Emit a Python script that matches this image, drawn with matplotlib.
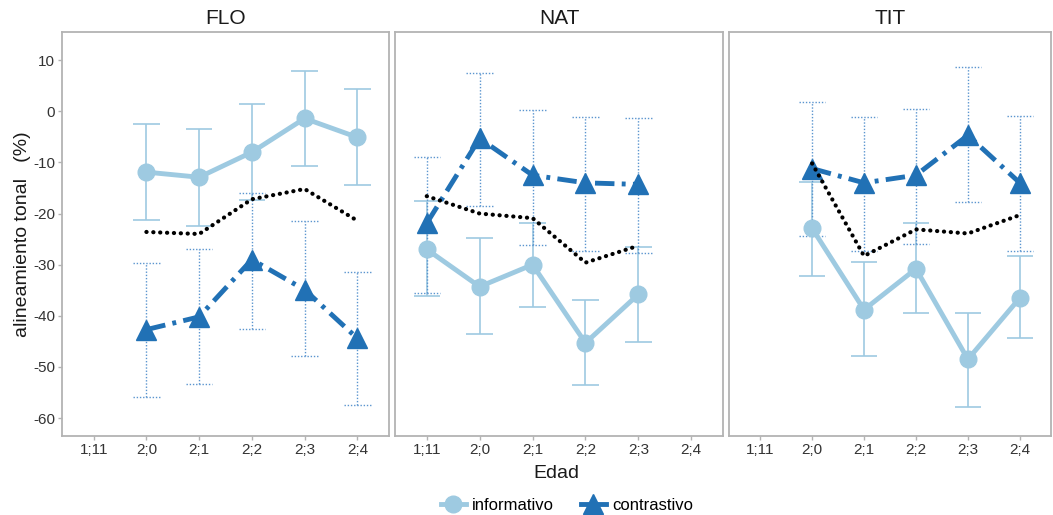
import numpy as np
import matplotlib.pyplot as plt
from matplotlib.lines import Line2D

plt.rcParams['font.family'] = ['Liberation Sans', 'DejaVu Sans']

edades = ['1;11', '2;0', '2;1', '2;2', '2;3', '2;4']
paneles = ['FLO', 'NAT', 'TIT']
nan = np.nan

# informativo: media, limite superior, limite inferior
inf_mean = {'FLO': [nan, -11.9, -12.9, -8.0, -1.4, -5.1],
            'NAT': [-27.0, -34.3, -30.0, -45.3, -35.8, nan],
            'TIT': [nan, -22.9, -38.8, -30.8, -48.5, -36.5]}
inf_hi = {'FLO': [nan, -2.5, -3.5, 1.4, 7.8, 4.3],
          'NAT': [-17.5, -24.8, -21.8, -37.0, -26.5, nan],
          'TIT': [nan, -13.8, -29.4, -21.9, -39.4, -28.3]}
inf_lo = {'FLO': [nan, -21.2, -22.4, -17.4, -10.7, -14.4],
          'NAT': [-36.2, -43.6, -38.2, -53.6, -45.1, nan],
          'TIT': [nan, -32.2, -47.9, -39.5, -57.9, -44.3]}

# contrastivo
con_mean = {'FLO': [nan, -42.7, -40.2, -29.0, -34.9, -44.4],
            'NAT': [-21.9, -5.3, -12.5, -14.0, -14.3, nan],
            'TIT': [nan, -11.2, -14.0, -12.5, -4.7, -14.0]}
con_hi = {'FLO': [nan, -29.6, -26.9, -16.0, -21.4, -31.4],
          'NAT': [-8.9, 7.4, 0.3, -1.1, -1.3, nan],
          'TIT': [nan, 1.8, -1.2, 0.4, 8.6, -1.0]}
con_lo = {'FLO': [nan, -55.8, -53.4, -42.5, -47.8, -57.5],
          'NAT': [-35.5, -18.5, -26.1, -27.4, -27.7, nan],
          'TIT': [nan, -24.3, -27.4, -26.0, -17.7, -27.4]}

# linea punteada negra
media = {'FLO': [nan, -23.6, -24.0, -17.2, -15.2, -21.4],
         'NAT': [-16.6, -20.0, -20.9, -29.6, -26.3, nan],
         'TIT': [nan, -10.2, -28.3, -23.1, -23.9, -20.3]}

col_inf = '#9ecae1'
col_con = '#2171b5'
col_err = '#5b95cf'
spine_col = '#b3b3b3'

W, H = 1053, 515
fig = plt.figure(figsize=(W / 100, H / 100), dpi=100)
lefts = [62, 395, 729]
rights = [389, 723, 1051]
top, bottom = 32, 436

x = np.arange(len(edades))
axes = []
for i, p in enumerate(paneles):
    ax = fig.add_axes([lefts[i] / W, 1 - bottom / H, (rights[i] - lefts[i]) / W, (bottom - top) / H])
    axes.append(ax)
    im = np.array(inf_mean[p]); ih = np.array(inf_hi[p]); il = np.array(inf_lo[p])
    cm = np.array(con_mean[p]); ch = np.array(con_hi[p]); cl = np.array(con_lo[p])
    mm = np.array(media[p])

    # barras de error informativo
    ax.vlines(x, il, ih, color=col_inf, lw=1.2, zorder=2)
    ax.hlines(ih, x - 0.25, x + 0.25, color=col_inf, lw=1.2, zorder=2)
    ax.hlines(il, x - 0.25, x + 0.25, color=col_inf, lw=1.2, zorder=2)
    # barras de error contrastivo
    ax.vlines(x, cl, ch, color=col_err, lw=1.0, linestyles=(0, (1, 1.3)), zorder=2)
    ax.hlines(ch, x - 0.25, x + 0.25, color=col_err, lw=1.0, linestyles=(0, (1, 1.3)), zorder=2)
    ax.hlines(cl, x - 0.25, x + 0.25, color=col_err, lw=1.0, linestyles=(0, (1, 1.3)), zorder=2)

    ok = ~np.isnan(im)
    ax.plot(x[ok], im[ok], color=col_inf, lw=3.5, marker='o', ms=12, zorder=3)
    ok = ~np.isnan(cm)
    ax.plot(x[ok], cm[ok], color=col_con, lw=3.5, linestyle=(0, (4, 1.5, 0.8, 1.5)),
            marker='^', ms=15, zorder=4)
    ok = ~np.isnan(mm)
    ax.plot(x[ok], mm[ok], color='black', lw=3.0, linestyle=(0, (0.05, 1.6)),
            dash_capstyle='round', zorder=5)

    ax.set_xlim(-0.6, 5.6)
    ax.set_ylim(-63.5, 15.5)
    ax.set_xticks(x)
    ax.set_xticklabels(edades, fontsize=11, color='#333333')
    ax.set_yticks([10, 0, -10, -20, -30, -40, -50, -60])
    ax.tick_params(axis='both', color=spine_col, length=3, width=1, pad=2)
    if i == 0:
        ax.set_yticklabels(['10', '0', '-10', '-20', '-30', '-40', '-50', '-60'],
                           fontsize=11, color='#333333')
    else:
        ax.tick_params(axis='y', left=False, labelleft=False)
    for s in ax.spines.values():
        s.set_color(spine_col)
        s.set_linewidth(1.3)
    ax.set_title(p, fontsize=15, color='#1a1a1a', pad=6)

axes[0].set_ylabel('alineamiento tonal   (%)', fontsize=14, color='#1a1a1a')
axes[0].yaxis.set_label_coords(-(62 - 31) / (389 - 62), 0.5)
fig.text((lefts[0] + rights[2]) / 2 / W, 1 - 473 / H, 'Edad', fontsize=14,
         color='#1a1a1a', ha='center', va='center')

handles = [Line2D([], [], color=col_inf, lw=3.5, marker='o', ms=12, label='informativo'),
           Line2D([], [], color=col_con, lw=3.5, marker='^', ms=15, label='contrastivo')]
fig.legend(handles=handles, loc='center', bbox_to_anchor=(567 / W, 1 - 505 / H), ncol=2,
           frameon=False, fontsize=12, handlelength=1.5, columnspacing=1.6, handletextpad=0.4)

plt.savefig('out.png', dpi=100)
